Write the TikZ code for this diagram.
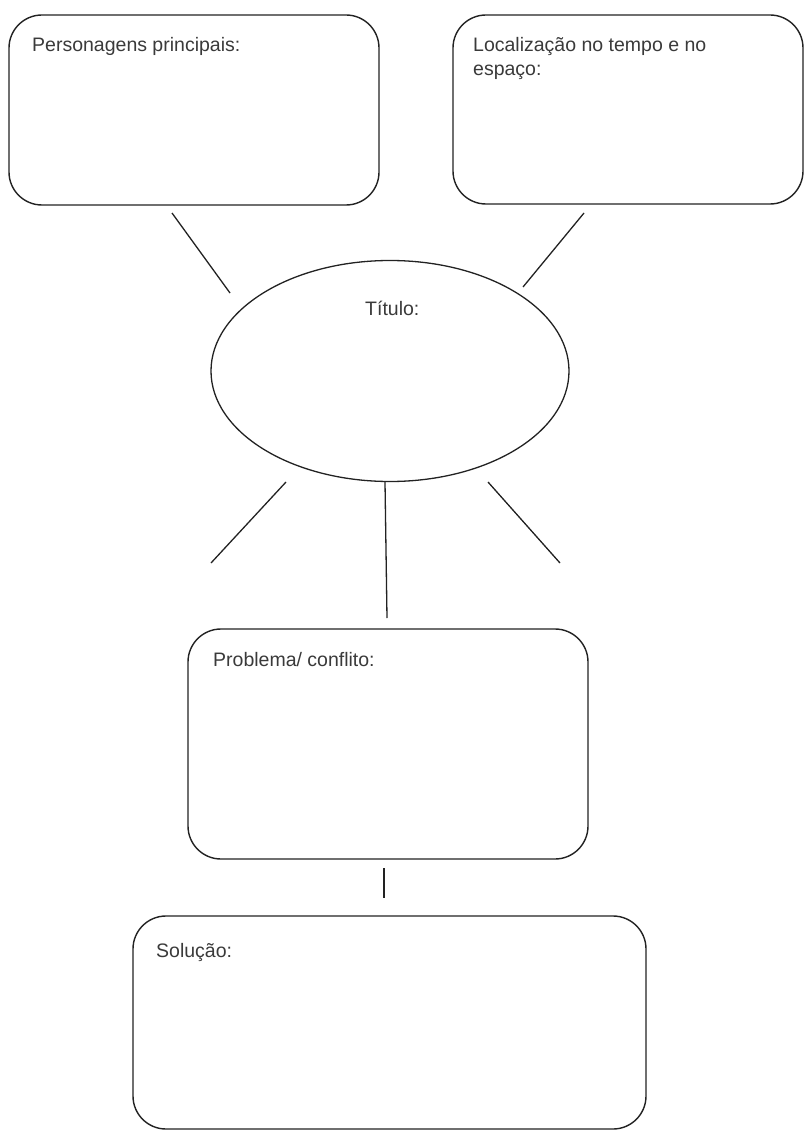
\documentclass[tikz,border=0pt]{standalone}
\usepackage{fontspec}
\setmainfont{Liberation Sans}
\usepackage{xcolor}
\usepackage{tikz}
\usetikzlibrary{calc,
                positioning,
                shapes.geometric}

\definecolor{txtgray}{HTML}{3A3A3A}
\definecolor{linegray}{HTML}{222222}

\tikzset{
  caixa/.style={draw=linegray, line width=1.4pt, rounded corners=33pt,
                rectangle, inner sep=0pt},
  rotulo/.style={text=txtgray, font=\fontsize{19.5}{24}\selectfont,
                 inner sep=0pt, anchor=base west},
  raio/.style={draw=linegray, line width=1.3pt}
}

\begin{document}
\begin{tikzpicture}[x=1pt,y=-1pt]
\useasboundingbox (0,0) rectangle (804,1131);

% caixas
\node[caixa, minimum width=370pt, minimum height=190pt] (pers) at (194,110) {};
\node[caixa, minimum width=350pt, minimum height=189pt] (local) at (628,109.5) {};
\node[ellipse, draw=linegray, line width=1.3pt, minimum width=358pt,
      minimum height=221pt, inner sep=0pt] (titulo) at (390,371) {};
\node[caixa, minimum width=400pt, minimum height=230pt] (prob) at (388,744) {};
\node[caixa, minimum width=513pt, minimum height=213pt] (sol) at (389.5,1022.5) {};

% textos
\node[rotulo] (tpers) at (32,52) {Personagens principais:};
\node[rotulo] (tlocal1) at (473,52) {Localização no tempo e no};
\node[rotulo] (tlocal2) at (473,76) {espaço:};
\node[rotulo] (ttit) at (365,315) {Título:};
\node[rotulo] (tprob) at (213,666) {Problema/ conflito:};
\node[rotulo] (tsol) at (156,957) {Solução:};

% raios
\coordinate (a1) at (172,213);
\coordinate (a2) at (230,293);
\coordinate (b1) at (584,213);
\coordinate (b2) at (523,287);
\coordinate (c1) at (286,482);
\coordinate (c2) at (211,563);
\coordinate (d1) at (488,482);
\coordinate (d2) at (560,563);
\coordinate (m1) at ($(titulo.south)+(-5,0)$);
\coordinate (m2) at (387,618);
\coordinate (e1) at (384,868);
\coordinate (e2) at (384,898);

\foreach \p/\q in {a1/a2, b1/b2, c1/c2, d1/d2, m1/m2, e1/e2}
  \draw[raio] (\p) -- (\q);
\end{tikzpicture}
\end{document}
